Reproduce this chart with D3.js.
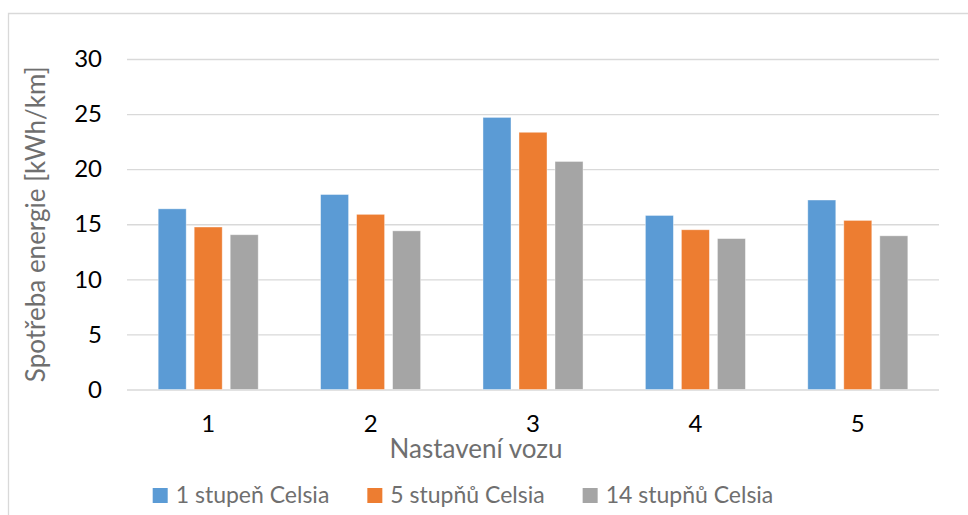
<!DOCTYPE html>
<html lang="cs">
<head>
    <meta charset="UTF-8">
    <title>Spotřeba energie</title>
    <script src="https://cdn.jsdelivr.net/npm/d3@7"></script>
    <style>
        body {
            margin: 0;
            background: #fff;
            font-family: Lato, "Open Sans", sans-serif;
        }
        .tick text {
            fill: #000;
            font-size: 24px;
        }
        .grid line {
            stroke: #d9d9d9;
            stroke-width: 1.3px;
        }
        .axis-title {
            fill: #6f6f6f;
            font-size: 26px;
            text-anchor: middle;
        }
        .legend text {
            fill: #6f6f6f;
            font-size: 23px;
        }
    </style>
</head>
<body>
    <svg id="chart" width="968" height="515"></svg>
    <script>
        var categories = ["1", "2", "3", "4", "5"];
        var seriesNames = ["1 stupeň Celsia", "5 stupňů Celsia", "14 stupňů Celsia"];
        var celsia1 = [16.4, 17.7, 24.7, 15.8, 17.2];
        var celsia5 = [14.75, 15.9, 23.35, 14.5, 15.35];
        var celsia14 = [14.05, 14.4, 20.7, 13.7, 13.95];
        var yTicks = [0, 5, 10, 15, 20, 25, 30];
        var colors = ["#5b9bd5", "#ed7d31", "#a5a5a5"];

        var seriesValues = [celsia1, celsia5, celsia14];

        var svg = d3.select("#chart");

        // chart frame (only top and left edges are visible)
        svg.append("path")
            .attr("d", "M8.5,515 V13.5 H968")
            .attr("fill", "none")
            .attr("stroke", "#d9d9d9")
            .attr("stroke-width", 1.3);

        var plotLeft = 127, plotRight = 939, plotTop = 59, plotBottom = 389.5;

        var x0 = d3.scaleBand()
            .domain(categories)
            .range([plotLeft, plotRight])
            .paddingInner(0.384)
            .paddingOuter(0.192);

        var x1 = d3.scaleBand()
            .domain(d3.range(seriesNames.length))
            .range([0, x0.bandwidth()])
            .paddingInner(0.222);

        var y = d3.scaleLinear()
            .domain([0, 30])
            .range([plotBottom, plotTop]);

        // gridlines
        svg.append("g")
            .attr("class", "grid")
            .attr("transform", "translate(" + plotLeft + ",0)")
            .call(d3.axisLeft(y).tickValues(yTicks).tickSize(-(plotRight - plotLeft)).tickFormat(""))
            .call(g => g.select(".domain").remove());

        // y axis labels
        svg.append("g")
            .attr("transform", "translate(" + plotLeft + ",0)")
            .call(d3.axisLeft(y).tickValues(yTicks).tickSize(0).tickPadding(25))
            .attr("font-family", null)
            .attr("font-size", null)
            .call(g => g.select(".domain").remove());

        // bars
        var groups = svg.selectAll(".group")
            .data(categories)
          .enter().append("g")
            .attr("class", "group")
            .attr("transform", d => "translate(" + x0(d) + ",0)");

        groups.selectAll("rect")
            .data((d, i) => seriesValues.map((s, k) => ({k: k, v: s[i]})))
          .enter().append("rect")
            .attr("x", d => x1(d.k))
            .attr("width", x1.bandwidth())
            .attr("y", d => y(d.v))
            .attr("height", d => y(0) - y(d.v))
            .attr("fill", d => colors[d.k])
            .attr("stroke", "#fff")
            .attr("stroke-opacity", 0.5)
            .attr("stroke-width", 0.8);

        // x axis labels
        svg.append("g")
            .attr("transform", "translate(0," + plotBottom + ")")
            .call(d3.axisBottom(x0).tickSize(0).tickPadding(25))
            .attr("font-family", null)
            .attr("font-size", null)
            .call(g => g.select(".domain").remove());

        // axis titles
        svg.append("text")
            .attr("class", "axis-title")
            .attr("x", 476)
            .attr("y", 458)
            .text("Nastavení vozu");

        svg.append("text")
            .attr("class", "axis-title")
            .attr("transform", "translate(45," + ((plotTop + plotBottom) / 2) + ") rotate(-90)")
            .text("Spotřeba energie [kWh/km]");

        // legend
        var legend = svg.append("g").attr("class", "legend");
        var items = legend.selectAll("g")
            .data(seriesNames)
          .enter().append("g");

        items.append("rect")
            .attr("width", 15)
            .attr("height", 15)
            .attr("y", 488)
            .attr("fill", (d, i) => colors[i]);

        items.append("text")
            .attr("x", 23)
            .attr("y", 503)
            .text(d => d);

        var widths = [];
        items.each(function() { widths.push(this.querySelector("text").getComputedTextLength() + 23); });
        var gap = 38;
        var total = d3.sum(widths) + gap * (widths.length - 1);
        var pos = 463 - total / 2;
        items.attr("transform", function(d, i) {
            var t = "translate(" + pos + ",0)";
            pos += widths[i] + gap;
            return t;
        });
    </script>
</body>
</html>
